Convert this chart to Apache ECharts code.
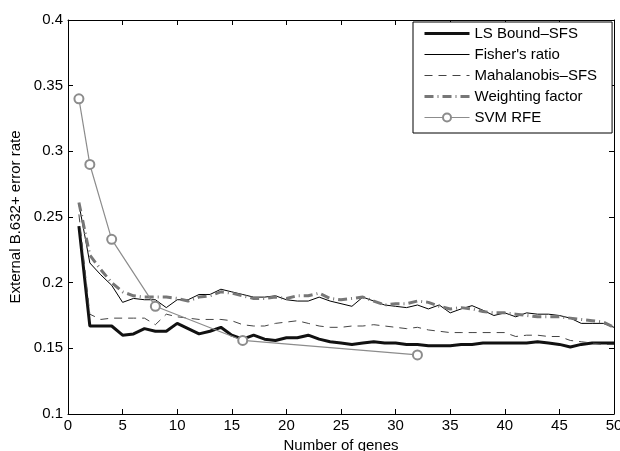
<!DOCTYPE html>
<html>
<head>
<meta charset="utf-8">
<script src="https://cdn.jsdelivr.net/npm/echarts@6/dist/echarts.min.js"></script>
<style>
  html, body { margin: 0; padding: 0; background: #fff; }
  #chart { width: 620px; height: 451px; }
</style>
</head>
<body>
<div id="chart"></div>
<script>
// number of genes 1..50
var genes = [];
for (var g = 1; g <= 50; g++) genes.push(g);

var lsBound = [0.243, 0.167, 0.167, 0.167, 0.160, 0.161, 0.165, 0.163, 0.163, 0.169,
    0.165, 0.161, 0.163, 0.166, 0.160, 0.157, 0.160, 0.157, 0.156, 0.158,
    0.158, 0.160, 0.157, 0.155, 0.154, 0.153, 0.154, 0.155, 0.154, 0.154,
    0.153, 0.153, 0.152, 0.152, 0.152, 0.153, 0.153, 0.154, 0.154, 0.154,
    0.154, 0.154, 0.155, 0.154, 0.153, 0.151, 0.153, 0.154, 0.154, 0.154];

var fisher = [0.260, 0.215, 0.206, 0.198, 0.185, 0.188, 0.187, 0.187, 0.181, 0.187,
    0.187, 0.191, 0.191, 0.195, 0.193, 0.191, 0.189, 0.189, 0.190, 0.187,
    0.186, 0.186, 0.189, 0.186, 0.184, 0.182, 0.189, 0.186, 0.183, 0.182,
    0.181, 0.183, 0.180, 0.183, 0.177, 0.180, 0.1825, 0.179, 0.175, 0.177,
    0.174, 0.177, 0.176, 0.176, 0.175, 0.173, 0.169, 0.169, 0.169, 0.166];

var mahalanobis = [0.252, 0.176, 0.172, 0.173, 0.173, 0.173, 0.173, 0.168, 0.176, 0.174,
    0.173, 0.172, 0.172, 0.172, 0.171, 0.168, 0.167, 0.167, 0.169, 0.170,
    0.171, 0.169, 0.167, 0.166, 0.166, 0.167, 0.167, 0.168, 0.167, 0.166,
    0.165, 0.166, 0.164, 0.163, 0.162, 0.162, 0.162, 0.162, 0.162, 0.162,
    0.159, 0.160, 0.160, 0.159, 0.159, 0.156, 0.155, 0.154, 0.153, 0.153];

var weighting = [0.261, 0.221, 0.210, 0.200, 0.193, 0.190, 0.189, 0.189, 0.189, 0.188,
    0.186, 0.189, 0.190, 0.193, 0.192, 0.190, 0.188, 0.188, 0.189, 0.188,
    0.190, 0.190, 0.192, 0.188, 0.187, 0.188, 0.189, 0.186, 0.183, 0.184,
    0.184, 0.186, 0.185, 0.182, 0.180, 0.181, 0.180, 0.178, 0.177, 0.177,
    0.176, 0.175, 0.174, 0.174, 0.174, 0.173, 0.172, 0.171, 0.170, 0.166];

var svmGenes = [1, 2, 4, 8, 16, 32];
var svmRfe = [0.340, 0.290, 0.233, 0.182, 0.156, 0.145];

function pairs(xs, ys) {
    return xs.map(function (x, i) { return [x, ys[i]]; });
}

var font = 'Liberation Sans, Arial, sans-serif';
var fs = 15;
var chart = echarts.init(document.getElementById('chart'));

var tickIn = { show: true, inside: true, length: 5, lineStyle: { color: '#000', width: 1 } };
var axisLn = { show: true, onZero: false, lineStyle: { color: '#000', width: 1 } };
var noSym = { opacity: 0 };

var options = {
    animation: false,
    backgroundColor: '#fff',
    grid: { left: 68, right: 6, top: 20, bottom: 37, outerBoundsMode: 'none' },
    legend: {
        orient: 'vertical',
        left: 413,
        top: 22,
        padding: [4, 15, 8, 10],
        itemWidth: 45,
        itemHeight: 10,
        itemGap: 6,
        borderColor: '#000',
        borderWidth: 1,
        backgroundColor: '#fff',
        lineStyle: { width: 'inherit' },
        textStyle: { fontFamily: font, fontSize: fs, color: '#000' },
        data: [
            { name: 'LS Bound\u2013SFS', itemStyle: noSym },
            { name: "Fisher's ratio", itemStyle: noSym },
            { name: 'Mahalanobis\u2013SFS', itemStyle: noSym },
            { name: 'Weighting factor', itemStyle: noSym },
            { name: 'SVM RFE' }
        ]
    },
    xAxis: [
        {
            type: 'value', min: 0, max: 50, interval: 5,
            name: 'Number of genes', nameLocation: 'middle', nameGap: 22,
            nameTextStyle: { fontFamily: font, fontSize: fs, color: '#000' },
            axisLine: axisLn, axisTick: tickIn,
            axisLabel: { fontFamily: font, fontSize: fs, color: '#000', margin: 4 },
            splitLine: { show: false }
        },
        {
            type: 'value', min: 0, max: 50, interval: 5, position: 'top',
            axisLine: axisLn, axisTick: tickIn,
            axisLabel: { show: false }, splitLine: { show: false }
        }
    ],
    yAxis: [
        {
            type: 'value', min: 0.1, max: 0.4, interval: 0.05,
            name: 'External B.632+ error rate', nameLocation: 'middle', nameGap: 42,
            nameTextStyle: { fontFamily: font, fontSize: fs, color: '#000' },
            axisLine: axisLn, axisTick: tickIn,
            axisLabel: {
                fontFamily: font, fontSize: fs, color: '#000', margin: 5,
                formatter: function (v) { return String(parseFloat(v.toFixed(2))); }
            },
            splitLine: { show: false }
        },
        {
            type: 'value', min: 0.1, max: 0.4, interval: 0.05, position: 'right',
            axisLine: axisLn, axisTick: tickIn,
            axisLabel: { show: false }, splitLine: { show: false }
        }
    ],
    series: [
        {
            name: 'LS Bound\u2013SFS', type: 'line', data: pairs(genes, lsBound),
            symbol: 'none', color: '#111',
            lineStyle: { color: '#111', width: 3 }
        },
        {
            name: "Fisher's ratio", type: 'line', data: pairs(genes, fisher),
            symbol: 'none', color: '#000',
            lineStyle: { color: '#000', width: 1 }
        },
        {
            name: 'Mahalanobis\u2013SFS', type: 'line', data: pairs(genes, mahalanobis),
            symbol: 'none', color: '#444',
            lineStyle: { color: '#444', width: 1, type: [8, 6] }
        },
        {
            name: 'Weighting factor', type: 'line', data: pairs(genes, weighting),
            symbol: 'none', color: '#777',
            lineStyle: { color: '#777', width: 3, type: [9, 4, 1, 4] }
        },
        {
            name: 'SVM RFE', type: 'line', data: pairs(svmGenes, svmRfe),
            symbol: 'emptyCircle', symbolSize: 9, color: '#8c8c8c',
            itemStyle: { color: '#8c8c8c', borderWidth: 1.2 },
            lineStyle: { color: '#8c8c8c', width: 1.2 }
        }
    ]
};

chart.setOption(options);
</script>
</body>
</html>
